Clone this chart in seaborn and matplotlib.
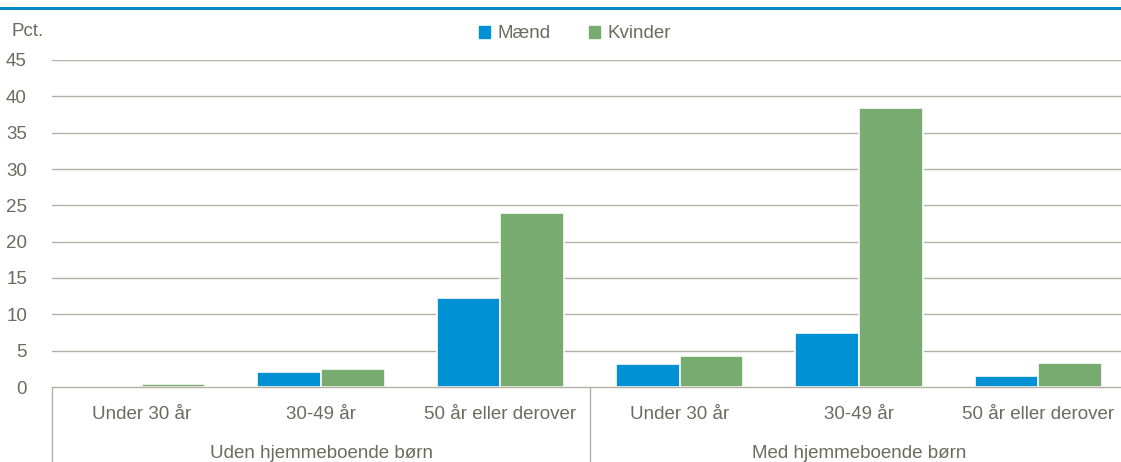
import pandas as pd
import numpy as np
import matplotlib.pyplot as plt
import matplotlib.patches as mpatches
from matplotlib.lines import Line2D
import seaborn as sns

# Data (pct.)
groups = ['Uden hjemmeboende børn', 'Med hjemmeboende børn']
ages = ['Under 30 år', '30-49 år', '50 år eller derover']
maend = [0.1, 2.1, 12.2, 3.2, 7.4, 1.5]
kvinder = [0.4, 2.5, 23.9, 4.3, 38.4, 3.3]
yticks = [0, 5, 10, 15, 20, 25, 30, 35, 40, 45]

keys = [g + '|' + a for g in groups for a in ages]
df = pd.DataFrame({'key': keys * 2,
                   'sex': ['Mænd'] * 6 + ['Kvinder'] * 6,
                   'value': maend + kvinder})

sns.set_style('white')
plt.rcParams['font.family'] = ['Liberation Sans Narrow', 'Liberation Sans', 'DejaVu Sans']
txt = '#6b6b5e'
grid = '#b3b1a3'
blue = '#0090d4'
green = '#77ab6f'

fig = plt.figure(figsize=(11.21, 4.62), dpi=100)
ax = fig.add_axes([52 / 1121, 1 - 387 / 462, 1076 / 1121, (387 - 60) / 462])

sns.barplot(data=df, x='key', y='value', hue='sex', order=keys,
            palette={'Mænd': blue, 'Kvinder': green}, width=0.71,
            edgecolor='white', linewidth=1.2, saturation=1, ax=ax, legend=False)

ax.set_ylim(0, 45)
ax.set_yticks(yticks)
ax.set_yticklabels([str(t) for t in yticks], fontsize=13.5, color=txt)
ax.set_xlim(-0.5, 5.5)
ax.set_xticks(range(6))
ax.set_xticklabels(ages * 2, fontsize=13.5, color=txt)
ax.tick_params(axis='x', length=0, pad=14)
ax.tick_params(axis='y', length=0, pad=18)
ax.set_xlabel('')
ax.set_ylabel('')
for t in yticks[1:]:
    ax.axhline(t, color=grid, lw=1, zorder=0)
for s in ['top', 'right', 'left']:
    ax.spines[s].set_visible(False)
ax.spines['bottom'].set_color(grid)
ax.spines['bottom'].set_linewidth(1)

# vertical separators below the axis
for xpos in [-0.5, 2.5]:
    ax.plot([xpos, xpos], [0, -10.5], color=grid, lw=1, clip_on=False)

# group labels
for i, g in enumerate(groups):
    ax.text(1 + 3 * i, -9.1, g, ha='center', va='center', fontsize=13.5, color=txt)

fig.text(12 / 1121, 1 - 31 / 462, 'Pct.', fontsize=13.5, color=txt, va='center')

handles = [mpatches.Patch(color=blue, label='Mænd'),
           mpatches.Patch(color=green, label='Kvinder')]
fig.legend(handles=handles, loc='center', bbox_to_anchor=(575 / 1121, 1 - 34 / 462),
           ncol=2, frameon=False, fontsize=13.5, labelcolor=txt,
           handlelength=0.6, handleheight=0.6, handletextpad=0.4, columnspacing=2.0)

fig.add_artist(Line2D([0, 1], [1 - 7.5 / 462, 1 - 7.5 / 462], color='#0088c9', lw=2.2))

fig.savefig('out.png', dpi=100)
